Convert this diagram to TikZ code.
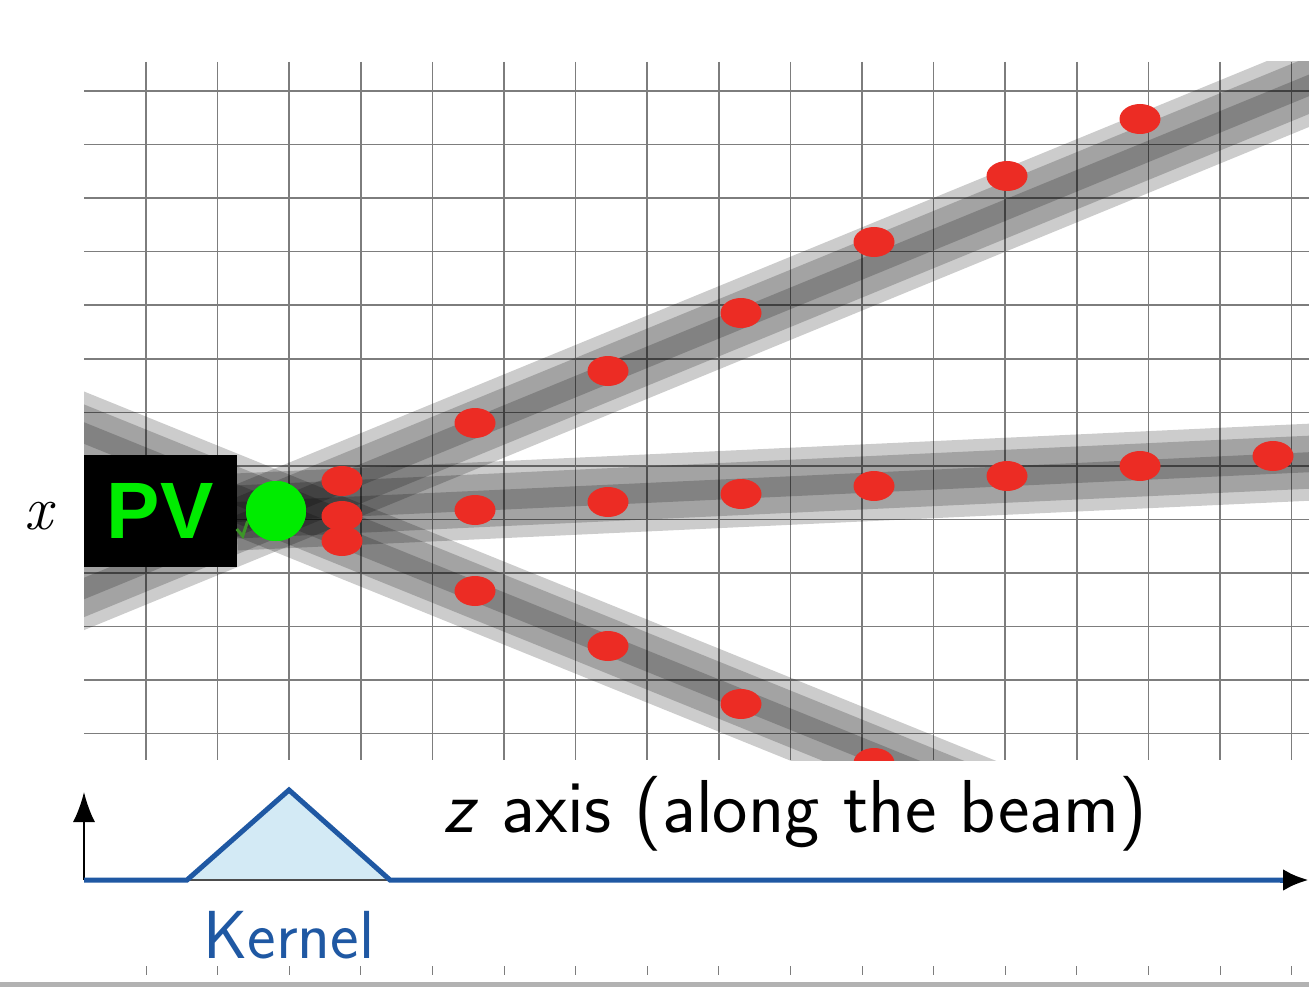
\documentclass[tikz,border=0pt]{standalone}
\usepackage{fontspec}
\newfontfamily\pvfont{Liberation Sans}
\usetikzlibrary{arrows.meta,shapes.geometric}
\definecolor{hitred}{RGB}{236,44,36}
\definecolor{pvgreen}{RGB}{0,236,0}
\definecolor{kblue}{RGB}{31,88,163}
\definecolor{kfill}{RGB}{211,234,245}
\definecolor{gridc}{RGB}{125,125,125}
\definecolor{sqgreen}{RGB}{60,150,40}
\newcommand\trackband[2]{%
  \draw[band,line width=77] #1 -- #2;
  \draw[band,line width=53] #1 -- #2;
  \draw[band,line width=20] #1 -- #2;}
\begin{document}
\begin{tikzpicture}[x=1pt,y=-1pt,
  gridline/.style={draw=gridc,line width=1.5},
  tickline/.style={draw=gridc,line width=1},
  band/.style={draw=black,draw opacity=0.2,line cap=butt},
  hit/.style={ellipse,fill=hitred,minimum width=41,minimum height=30,inner sep=0},
  vertex/.style={circle,fill=pvgreen,minimum size=60,inner sep=0},
  pvbox/.style={fill=black,minimum width=153,minimum height=112,inner sep=0,text=pvgreen,font=\pvfont\bfseries\fontsize{80}{84}\selectfont},
  axislabel/.style={inner sep=0,font=\sffamily\fontsize{75}{80}\selectfont},
  kernellabel/.style={inner sep=0,text=kblue,font=\sffamily\fontsize{68}{72}\selectfont},
  kernelline/.style={draw=kblue,line width=5,line join=miter}]
\useasboundingbox (0,0) rectangle (1309,987);
\fill[white] (0,0) rectangle (1309,987);
% grid
\foreach \k in {0,...,16} \draw[gridline] ({146+71.6*\k},62) -- ({146+71.6*\k},760);
\foreach \j in {0,...,12} \draw[gridline] (84,{91+53.55*\j}) -- (1309,{91+53.55*\j});
% tracks and hits
\begin{scope}
\clip (84,62) rectangle (1309,760);
\trackband{(0,623)}{(1400,48)}
\trackband{(0,399)}{(1400,966)}
\trackband{(236,512)}{(1400,458)}
\foreach \x/\y [count=\i] in {342/481,475/423,608/371,741/313,874/242,1007/176,1140/119}
  \node[hit] (ta\i) at (\x,\y) {};
\foreach \x/\y [count=\i] in {342/516,475/510,608/502,741/494,874/486,1007/476,1140/466,1273/456}
  \node[hit] (tb\i) at (\x,\y) {};
\foreach \x/\y [count=\i] in {342/541,475/591,608/646,741/704,874/763}
  \node[hit] (tc\i) at (\x,\y) {};
\end{scope}
% primary vertex
\node[vertex] (vtx) at (276,511) {};
\node[pvbox] (pv) at (160,511) {PV};
\draw[sqgreen,line width=3] ([yshift=-18]pv.east) -- ++(6,7) -- (vtx.200);
\node[vertex] at (276,511) {};
\node[inner sep=0,font=\fontsize{62}{66}\selectfont\itshape] (xlab) at (38,516) {x};
% bottom axis and kernel
\coordinate (o) at (84,880);
\coordinate (ytop) at (84,792);
\coordinate (kl) at (187,880);
\coordinate (kt) at (289,790);
\coordinate (kr) at (390,880);
\coordinate (zend) at (1309,880);
\fill[kfill] (kl) -- (kt) -- (kr) -- cycle;
\draw[black!70,line width=1.2] (kl) -- (kr);
\draw[black,line width=2,-{Latex[length=30,width=22]}] (o) -- (ytop);
\draw[kernelline] (o) -- (kl) -- (kt) -- (kr) -- (1290,880);
\draw[draw=kblue,line width=5,-{Latex[black,length=26,width=22]}] (1280,880) -- (zend);
\node[axislabel,anchor=base west] (zlab) at (443,832) {\textit{z} axis (along the beam)};
\node[kernellabel,anchor=base] (klab) at (289,958) {Kernel};
\foreach \k in {0,...,16} \draw[tickline] ({146+71.6*\k},966) -- ({146+71.6*\k},975);
\fill[gray!60] (0,982) rectangle (1309,987);
\end{tikzpicture}
\end{document}
